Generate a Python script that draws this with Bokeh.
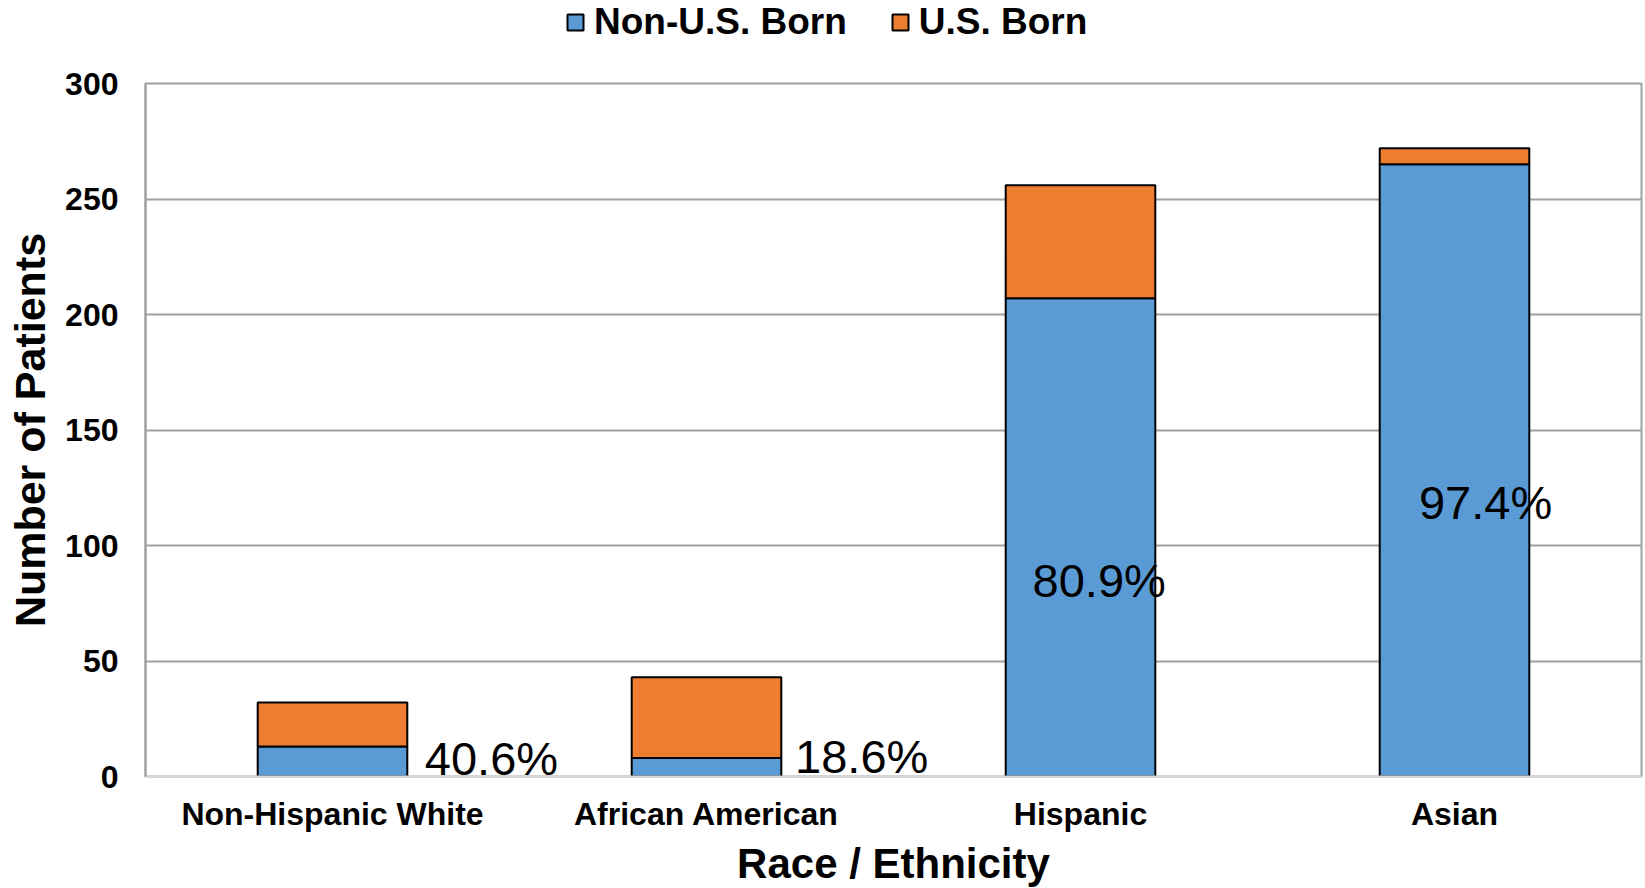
from bokeh.plotting import figure
from bokeh.layouts import column
from bokeh.models import FactorRange, Range1d, FixedTicker, ColumnDataSource, Legend, LegendItem, Label
from bokeh.embed import file_html
from bokeh.resources import INLINE

# ---- data ----
categories = ["Non-Hispanic White", "African American", "Hispanic", "Asian"]
non_us_born = [13, 8, 207, 265]
us_born = [19, 35, 49, 7]
series_names = ["Non-U.S. Born", "U.S. Born"]
y_ticks = [0, 50, 100, 150, 200, 250, 300]

# ---- label placement (layout only) ----
label_dx = [0.425, 0.415, 0.05, 0.083]
label_y = [8.0, 8.5, 84.8, 118.4]

pct = ["%.1f%%" % (100.0 * a / (a + b)) for a, b in zip(non_us_born, us_born)]

FONT = "Liberation Sans"
BLUE = "#5B9BD5"
ORANGE = "#ED7D31"
COLORS = [BLUE, ORANGE]

src = ColumnDataSource(dict(cat=categories, nonus=non_us_born, us=us_born))

# ---------- legend strip ----------
lg = figure(width=1645, height=60, x_range=FactorRange(*categories), y_range=Range1d(0, 300),
            output_backend="svg", toolbar_location=None,
            x_axis_location=None, y_axis_location=None,
            min_border_left=145, min_border_right=4, min_border_top=0, min_border_bottom=0)
lg.outline_line_color = None
lg.xgrid.grid_line_color = None
lg.ygrid.grid_line_color = None
sw = lg.vbar_stack(["nonus", "us"], x="cat", width=0.4, source=src, color=COLORS,
                   line_color="black", line_width=2)
for r in sw:
    r.visible = False
legend = Legend(items=[LegendItem(label=series_names[0], renderers=[sw[0]]),
                       LegendItem(label=series_names[1], renderers=[sw[1]])],
                orientation="horizontal", location=(420, 17),
                label_text_font=FONT, label_text_font_size="37px", label_text_font_style="bold",
                label_text_color="black", inactive_fill_alpha=0,
                glyph_width=20, glyph_height=20, label_standoff=9, spacing=43,
                padding=0, margin=0, border_line_color=None, background_fill_alpha=0)
lg.add_layout(legend, "center")

# ---------- main chart ----------
p = figure(x_range=FactorRange(*categories, range_padding=0), y_range=Range1d(0, 300),
           frame_width=1496, frame_height=693, output_backend="svg", toolbar_location=None,
           min_border_left=145, min_border_top=23, min_border_right=4, min_border_bottom=0)

p.vbar_stack(["nonus", "us"], x="cat", width=0.4, source=src, color=COLORS,
             line_color="black", line_width=2)

for i in range(len(categories)):
    p.add_layout(Label(x=i + 0.5 + label_dx[i], y=label_y[i], text=pct[i],
                       text_font=FONT, text_font_size="47px", text_color="black",
                       text_align="center", text_baseline="middle"))

p.yaxis.ticker = FixedTicker(ticks=y_ticks)
p.ygrid.ticker = FixedTicker(ticks=y_ticks[1:])
p.xgrid.grid_line_color = None
p.ygrid.grid_line_color = "#a0a0a0"
p.ygrid.grid_line_width = 2
p.outline_line_color = "#a0a0a0"
p.outline_line_width = 2

p.yaxis.axis_line_color = "#a0a0a0"
p.yaxis.axis_line_width = 2
p.xaxis.axis_line_color = "#d9d9d9"
p.xaxis.axis_line_width = 2
for ax in (p.xaxis, p.yaxis):
    ax.major_tick_line_color = None
    ax.minor_tick_line_color = None
    ax.major_tick_out = 0
    ax.major_tick_in = 0
    ax.minor_tick_out = 0
    ax.major_label_text_font = FONT
    ax.major_label_text_font_style = "bold"
    ax.major_label_text_font_size = "32px"
    ax.major_label_text_color = "black"
    ax.axis_label_text_font = FONT
    ax.axis_label_text_font_style = "bold"
    ax.axis_label_text_color = "black"

p.yaxis.axis_label = "Number of Patients"
p.xaxis.axis_label = "Race / Ethnicity"
p.yaxis.axis_label_text_font_size = "43px"
p.xaxis.axis_label_text_font_size = "42px"
p.yaxis.major_label_standoff = 27
p.yaxis.axis_label_standoff = 8
p.xaxis.major_label_standoff = 19
p.xaxis.axis_label_standoff = 5
p.xaxis.major_label_orientation = "horizontal"

layout = column(lg, p, spacing=0)
open("out.html", "w").write(file_html(layout, INLINE))
